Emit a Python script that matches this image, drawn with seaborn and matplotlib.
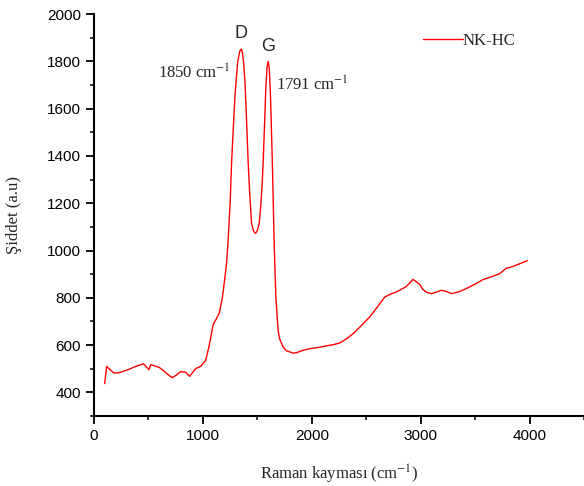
import matplotlib
matplotlib.use('Agg')
import numpy as np
import pandas as pd
import matplotlib.pyplot as plt
from matplotlib.ticker import MultipleLocator
import seaborn as sns

raman_kaymasi = [98, 116, 150, 183, 230, 275, 320, 367, 410, 453, 480, 505, 520,
                 566, 600, 627, 680, 718, 760, 795, 841, 878, 910, 933, 979, 1025,
                 1055, 1095, 1125, 1150, 1180, 1217, 1230, 1250, 1263, 1275, 1295,
                 1309, 1320, 1340, 1352, 1362, 1375, 1385, 1395, 1405, 1416, 1430,
                 1447, 1465, 1483, 1500, 1517, 1530, 1545, 1553, 1565, 1578, 1590,
                 1600, 1610, 1621, 1630, 1640, 1645, 1655, 1670, 1691, 1706, 1737,
                 1768, 1829, 1860, 1920, 1982, 2060, 2135, 2200, 2257, 2320, 2379,
                 2450, 2532, 2600, 2670, 2720, 2777, 2807, 2869, 2930, 2991, 3021,
                 3060, 3098, 3140, 3190, 3240, 3282, 3350, 3419, 3500, 3572, 3650,
                 3725, 3786, 3830, 3878, 3930, 3979]
siddet = [437, 510, 495, 482, 483, 490, 497, 507, 514, 521, 508, 496, 517,
          511, 505, 496, 475, 462, 474, 488, 485, 468, 487, 500, 510, 535,
          592, 688, 712, 735, 803, 945, 1030, 1200, 1368, 1480, 1660,
          1740, 1800, 1845, 1852, 1840, 1790, 1721, 1620, 1500, 1368, 1240,
          1114, 1082, 1072, 1085, 1114, 1180, 1290, 1368, 1520, 1690, 1780,
          1800, 1770, 1650, 1500, 1330, 1227, 1020, 803, 660, 625, 592,
          576, 566, 568, 578, 585, 590, 597, 602, 609, 627, 648,
          680, 719, 760, 803, 815, 825, 832, 848, 878, 857, 835,
          822, 818, 823, 832, 826, 818, 825, 839, 858, 877, 889,
          902, 925, 930, 938, 948, 957]

df = pd.DataFrame({'x': raman_kaymasi, 'y': siddet})

sns.set_style('ticks')
plt.rcParams['mathtext.fontset'] = 'stix'
serif = ['Liberation Serif', 'DejaVu Serif']
sans = ['Liberation Sans', 'DejaVu Sans']

fig = plt.figure(figsize=(5.84, 4.86), dpi=100)
ax = fig.add_axes([0.161, 0.144, 0.839, 0.827])

sns.lineplot(data=df, x='x', y='y', color='red', lw=1, label='NK-HC', ax=ax)

ax.set_xlim(0, 4500)
ax.set_ylim(300, 2000)
ax.xaxis.set_major_locator(MultipleLocator(1000))
ax.xaxis.set_minor_locator(MultipleLocator(500))
ax.yaxis.set_major_locator(MultipleLocator(200))
ax.yaxis.set_minor_locator(MultipleLocator(100))
ax.tick_params(which='major', direction='out', length=6, width=1.3, labelsize=11, colors='black')
ax.tick_params(which='minor', direction='out', length=3, width=1.3)
for lab in ax.get_xticklabels() + ax.get_yticklabels():
    lab.set_family(sans)

sns.despine(ax=ax)
for s in ['left', 'bottom']:
    ax.spines[s].set_linewidth(1.5)
    ax.spines[s].set_color('black')

ax.set_xlabel(r'Raman kayması (cm$^{\mathrm{-1}}$)', family=serif, fontsize=12, labelpad=14)
ax.set_ylabel('Şiddet (a.u)', family=serif, fontsize=12, labelpad=18)

# Etiquetas de los picos
ax.text(1350, 1880, 'D', family=sans, fontsize=13, ha='center', va='bottom')
ax.text(1600, 1825, 'G', family=sans, fontsize=13, ha='center', va='bottom')
ax.text(1250, 1752, r'1850 cm$^{\mathrm{-1}}$', family=serif, fontsize=12, ha='right', va='center')
ax.text(1670, 1700, r'1791 cm$^{\mathrm{-1}}$', family=serif, fontsize=12, ha='left', va='center')

ax.legend(loc='center left', bbox_to_anchor=(0.671, 0.933), frameon=False,
          borderpad=0, borderaxespad=0, handletextpad=0, handlelength=2.4,
          prop={'family': serif, 'size': 12})

plt.savefig('out.png', dpi=100)
plt.close()
